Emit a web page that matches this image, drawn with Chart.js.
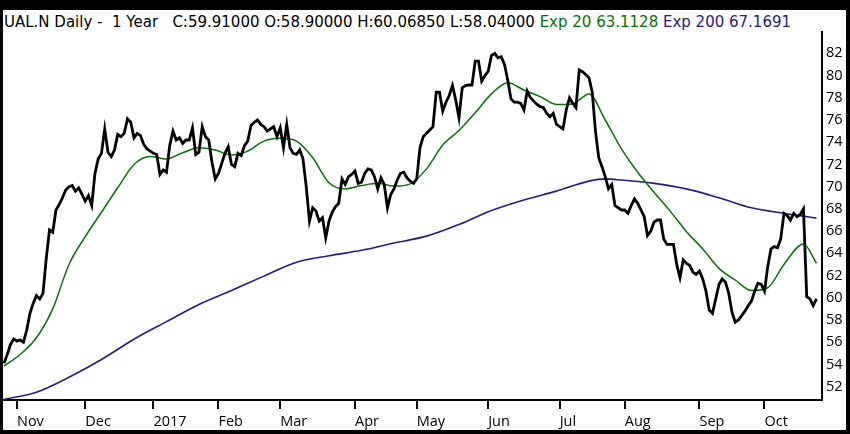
<!DOCTYPE html>
<html>
<head>
<meta charset="utf-8">
<script src="https://cdn.jsdelivr.net/npm/chart.js@4.4.0/dist/chart.umd.min.js"></script>
<style>
  html, body { margin: 0; padding: 0; background: #000; }
  #frame { position: relative; width: 850px; height: 434px; background: #000; overflow: hidden; }
  #paper { position: absolute; left: 3px; top: 10px; width: 843px; height: 420px; background: #fff; }
  #chart { position: absolute; left: 0; top: 0; }
  #head { position: absolute; left: 4px; top: 13px; font-family: "DejaVu Sans", sans-serif; font-size: 15px; line-height: 18px; color: #000; white-space: pre; }
  .g { color: #0b6f0b; }
  .p { color: #2b1883; }
</style>
</head>
<body>
<div id="frame">
  <div id="paper"></div>
  <div id="head">UAL.N Daily -  1 Year   C:59.91000 O:58.90000 H:60.06850 L:58.04000 <span class="g">Exp 20 63.1128</span> <span class="p">Exp 200 67.1691</span></div>
  <canvas id="chart" width="850" height="434"></canvas>
</div>
<script>
// daily closes, one per trading day, 26 Oct 2016 .. 24 Oct 2017
const closeVals = [
  54.1, 54.9, 55.8, 56.3, 56.1, 56.2, 56.0, 57.1, 58.6, 59.5,
  60.2, 59.9, 60.4, 63.5, 66.1, 65.9, 67.9, 68.4, 69.0, 69.7,
  70.0, 70.1, 69.6, 69.9, 69.3, 68.7, 69.2, 68.3, 71.2, 72.5,
  73.0, 75.2, 73.1, 72.7, 73.3, 74.7, 74.5, 74.8, 76.1, 75.8,
  74.4, 74.8, 74.6, 73.8, 73.4, 73.2, 73.0, 72.9, 71.1, 71.5,
  71.3, 73.7, 75.0, 74.2, 74.4, 73.9, 74.2, 74.2, 75.3, 72.9,
  73.1, 75.4, 74.5, 74.2, 72.2, 70.7, 71.2, 72.1, 73.0, 73.6,
  72.0, 71.8, 73.0, 72.8, 73.7, 74.1, 75.5, 75.8, 76.0, 75.6,
  75.4, 75.0, 75.2, 75.4, 74.5, 75.3, 73.5, 75.6, 73.5, 73.0,
  72.9, 73.3, 72.5, 70.0, 66.9, 68.1, 67.8, 66.9, 67.2, 65.4,
  66.9, 67.7, 68.2, 68.5, 70.7, 70.2, 70.9, 71.1, 71.4, 70.3,
  70.4, 71.2, 71.6, 71.5, 70.9, 69.8, 70.8, 70.2, 68.1, 69.3,
  69.8, 70.6, 71.2, 71.3, 70.8, 70.5, 70.3, 70.7, 73.5, 74.5,
  74.8, 75.1, 75.4, 78.5, 78.5, 76.8, 77.6, 78.2, 79.1, 77.8,
  76.2, 78.9, 79.1, 79.15, 79.15, 81.3, 81.3, 79.5, 80.0, 80.4,
  81.8, 82.0, 81.6, 81.7, 81.0, 79.6, 77.9, 77.6, 77.6, 77.5,
  76.9, 78.6, 78.0, 77.7, 77.4, 77.2, 77.1, 76.6, 76.3, 76.6,
  75.6, 75.4, 75.2, 76.9, 78.0, 77.5, 77.1, 80.5, 80.35, 80.1,
  79.8, 78.5, 75.0, 72.6, 71.8, 70.9, 69.8, 70.2, 68.3, 68.1,
  67.9, 67.9, 67.6, 68.3, 68.9, 68.5, 67.9, 67.3, 65.6, 66.0,
  66.8, 67.0, 67.0, 65.3, 64.8, 64.8, 64.8, 63.0, 61.8, 63.4,
  63.1, 62.9, 62.3, 62.1, 62.4, 61.7, 60.6, 58.9, 58.6, 59.9,
  61.2, 61.7, 61.4, 60.4, 58.7, 57.8, 58.0, 58.4, 58.8, 59.3,
  59.7, 60.6, 61.3, 61.2, 60.6, 62.8, 64.4, 64.6, 64.5, 65.3,
  67.6, 67.4, 67.0, 67.6, 67.3, 67.5, 68.0, 60.1, 59.9, 59.3,
  59.91
];

// Exp 20 at these trading-day positions
const ema20Idx = [0, 5, 10, 15, 20, 25, 30, 35, 40, 45, 50, 55, 60, 65, 70, 75, 80, 85, 90, 95,
  100, 105, 110, 115, 120, 125, 130, 135, 140, 145, 150, 155, 160, 165, 170, 175, 180, 185, 190, 195,
  200, 205, 210, 215, 220, 225, 230, 235, 240, 246, 250];
const ema20Vals = [53.85, 54.9, 56.4, 59.0, 63.0, 65.5, 67.7, 69.9, 72.0, 72.72, 72.5, 73.05, 73.5, 73.3, 72.85, 73.2, 74.1, 74.35, 74.1, 72.6,
  70.35, 69.8, 70.1, 70.3, 70.05, 70.25, 71.6, 73.75, 75.05, 76.65, 78.35, 79.35, 78.7, 78.1, 77.4, 77.45, 78.35, 76.0, 73.4, 71.3,
  69.5, 67.8, 65.95, 64.4, 62.65, 61.6, 60.65, 60.9, 63.0, 64.85, 63.11];

// Exp 200
const ema200Idx = [0, 10, 20, 30, 40, 50, 60, 70, 80, 90, 100, 110, 120, 130, 140, 150, 160, 170, 180, 185, 190, 200, 210, 220, 230, 240, 250];
const ema200Vals = [50.85, 51.5, 52.85, 54.45, 56.27, 57.85, 59.4, 60.65, 61.95, 63.2, 63.78, 64.27, 64.93, 65.55, 66.6, 67.85, 68.8, 69.6, 70.5, 70.7, 70.6, 70.3, 69.8, 69.0, 68.1, 67.6, 67.17];

const monthLabels = ['Nov', 'Dec', '2017', 'Feb', 'Mar', 'Apr', 'May', 'Jun', 'Jul', 'Aug', 'Sep', 'Oct'];
const monthStartIdx = [4, 25, 46, 66, 85, 108, 127, 149, 171, 191, 214, 234];
const priceTicks = [52, 54, 56, 58, 60, 62, 64, 66, 68, 70, 72, 74, 76, 78, 80, 82];

const pts = (xs, ys) => ys.map((y, i) => ({ x: xs[i], y }));
const axisFont = { family: '"Open Sans", sans-serif', size: 14.5 };

new Chart(document.getElementById('chart'), {
  type: 'line',
  data: {
    datasets: [
      {
        label: 'UAL.N',
        data: closeVals.map((y, i) => ({ x: i, y })),
        borderColor: '#000',
        borderWidth: 2.8,
        pointRadius: 0,
        tension: 0
      },
      {
        label: 'Exp 20',
        data: pts(ema20Idx, ema20Vals),
        borderColor: '#0b6f0b',
        borderWidth: 1.5,
        pointRadius: 0,
        cubicInterpolationMode: 'monotone'
      },
      {
        label: 'Exp 200',
        data: pts(ema200Idx, ema200Vals),
        borderColor: '#2b1883',
        borderWidth: 1.6,
        pointRadius: 0,
        cubicInterpolationMode: 'monotone'
      }
    ]
  },
  options: {
    responsive: false,
    animation: false,
    layout: { padding: { left: 3, top: 32, right: 4, bottom: 4 } },
    plugins: { legend: { display: false }, tooltip: { enabled: false } },
    scales: {
      x: {
        type: 'linear',
        min: -0.3,
        max: 251.7,
        afterBuildTicks: s => { s.ticks = monthStartIdx.map(v => ({ value: v })); },
        afterFit: s => { s.height = 30; },
        border: { display: true, color: '#000', width: 2 },
        grid: { drawOnChartArea: false, drawTicks: true, tickLength: 9, color: '#000', lineWidth: 2 },
        ticks: {
          autoSkip: false,
          maxRotation: 0,
          align: 'start',
          padding: 4,
          color: '#000',
          font: axisFont,
          callback: (v, i) => monthLabels[i]
        }
      },
      y: {
        position: 'right',
        min: 50.8,
        max: 83.92,
        afterBuildTicks: s => { s.ticks = priceTicks.map(v => ({ value: v })); },
        afterFit: s => { s.width = 24; },
        border: { display: true, color: '#000', width: 2 },
        grid: { display: false, drawTicks: false },
        ticks: { padding: 4, color: '#000', font: axisFont }
      }
    }
  }
});
</script>
</body>
</html>
